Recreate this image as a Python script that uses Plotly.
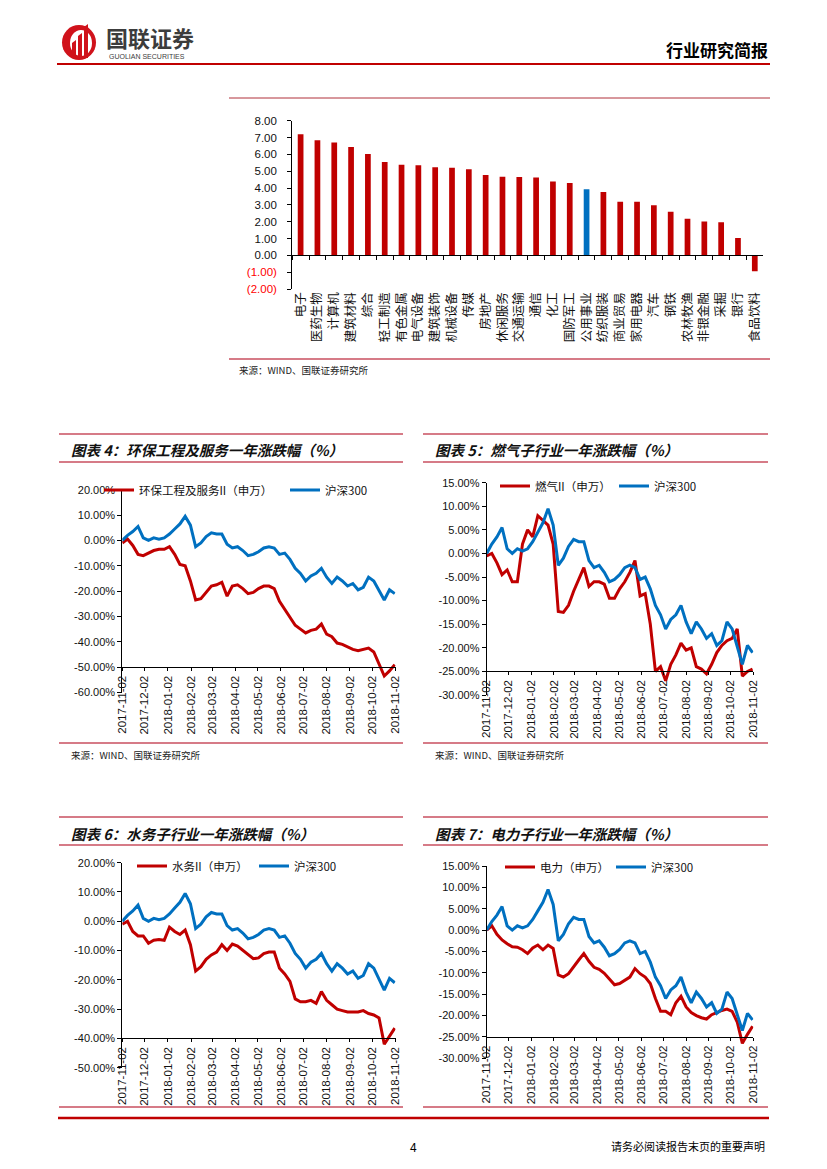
import plotly.graph_objects as go

W, H = 827, 1169
def X(p): return p / W
def Y(p): return 1 - p / H

RED = "#C00000"
BLUE = "#0070C0"
RULE = "#C94F5F"
CJK = "Noto Sans CJK SC"
NUM = "Liberation Sans"

# ---------------- data: industry bar chart ----------------
industries = ["电子", "医药生物", "计算机", "建筑材料", "综合", "轻工制造", "有色金属", "电气设备",
              "建筑装饰", "机械设备", "传媒", "房地产", "休闲服务", "交通运输", "通信", "化工",
              "国防军工", "公用事业", "纺织服装", "商业贸易", "家用电器", "汽车", "钢铁", "农林牧渔",
              "非银金融", "采掘", "银行", "食品饮料"]
returns = [7.20, 6.84, 6.71, 6.43, 6.02, 5.54, 5.39, 5.35, 5.23, 5.21, 5.11, 4.77, 4.67, 4.65,
           4.63, 4.39, 4.30, 3.93, 3.77, 3.18, 3.19, 2.97, 2.59, 2.17, 2.01, 1.96, 1.03, -0.95]
highlight = "公用事业"
bar_ticks = [8, 7, 6, 5, 4, 3, 2, 1, 0, -1, -2]

# ---------------- data: one-year performance lines (weekly, %) ----------------
dates = ["2017-11-02", "2017-11-09", "2017-11-16", "2017-11-23", "2017-11-30", "2017-12-07",
         "2017-12-14", "2017-12-21", "2017-12-28", "2018-01-04", "2018-01-11", "2018-01-18",
         "2018-01-25", "2018-02-01", "2018-02-08", "2018-02-15", "2018-02-22", "2018-03-01",
         "2018-03-08", "2018-03-15", "2018-03-22", "2018-03-29", "2018-04-05", "2018-04-12",
         "2018-04-19", "2018-04-26", "2018-05-03", "2018-05-10", "2018-05-17", "2018-05-24",
         "2018-05-31", "2018-06-07", "2018-06-14", "2018-06-21", "2018-06-28", "2018-07-05",
         "2018-07-12", "2018-07-19", "2018-07-26", "2018-08-02", "2018-08-09", "2018-08-16",
         "2018-08-23", "2018-08-30", "2018-09-06", "2018-09-13", "2018-09-20", "2018-09-27",
         "2018-10-04", "2018-10-11", "2018-10-18", "2018-10-25", "2018-11-01"]
hs300 = [0, 2, 3.5, 5.5, 1, 0, 1, 0.5, 1, 2.5, 4.5, 6.5, 9.5, 6, -2.5, -1, 1.5, 3, 2.5, 2.5,
         -1.5, -3, -2.5, -4, -6, -5.5, -4.5, -3, -2.5, -3, -5.5, -5, -7.5, -11, -13, -16, -14,
         -13, -11, -14.5, -17, -14.5, -16, -18, -17, -19.5, -18.5, -14.5, -16, -20, -23.5, -19.5, -21]
env = [-1, 0.5, -2, -5.5, -6, -5, -4, -3.5, -3.5, -2.5, -5.5, -9.5, -10, -16, -23.5, -23, -20.5,
       -18, -17.5, -16.5, -22, -18, -17.5, -19, -21, -20.5, -19, -18, -18, -19, -24, -27, -30,
       -33.5, -35, -36.5, -35.5, -35, -33, -37, -38, -40.5, -41, -42, -43, -43.5, -43, -42.5,
       -44, -48.5, -53.5, -51.5, -49]
gas = [-0.5, 0, -2, -4.5, -3.5, -6, -6, 2, 5, 3.5, 8, 7, 6, 2, -12.3, -12.5, -11, -8, -5.5, -3,
       -7, -6, -6, -6.5, -9.5, -9.5, -7.5, -6, -4, -1.5, -9, -8.5, -15, -25, -24, -27, -23.5,
       -21.5, -19, -20.5, -20, -24, -24.5, -25.5, -23.5, -21, -19.5, -18.5, -18, -16, -26, -25, -24.5]
water = [-1, 0, -3.5, -5, -5, -7.5, -6.5, -6.2, -6.5, -2, -3.5, -4.5, -3, -8, -17, -15.5, -13,
         -11.5, -10.5, -8, -10, -7.8, -8.5, -10, -11.5, -12.8, -12.5, -11, -10.5, -10.5, -16, -18,
         -20.5, -26.5, -27.5, -27.5, -27, -28, -24, -27, -28.5, -30, -30.5, -31, -31, -31, -30.5,
         -31.5, -32, -33, -42, -39, -36.5]
power = [0, 1, -1, -2.3, -3.2, -3.9, -4, -4.6, -5.5, -4.2, -3.5, -4.6, -3.5, -4.3, -10.5, -11,
         -10.2, -8.5, -7, -5.5, -7.3, -8.7, -9.2, -10.1, -11.5, -12.8, -12.5, -11.8, -11, -9, -10.2,
         -11, -12.5, -16, -19, -19, -19.8, -17, -15.5, -18, -19.3, -20, -20.5, -20.8, -19.8, -19.3,
         -18.8, -18.5, -19, -21.5, -26.5, -24.4, -22.5]
month_ticks = ["2017-11-02", "2017-12-02", "2018-01-02", "2018-02-02", "2018-03-02", "2018-04-02",
               "2018-05-02", "2018-06-02", "2018-07-02", "2018-08-02", "2018-09-02", "2018-10-02",
               "2018-11-02"]

fig = go.Figure()

# ---------------- bar chart ----------------
bar_colors = [BLUE if c == highlight else RED for c in industries]
fig.add_trace(go.Bar(x=industries, y=returns, marker_color=bar_colors, marker_line_width=0,
                     width=0.34, xaxis="x", yaxis="y", showlegend=False))

bar_xd = (292.2, 763.2)
bar_yd = (120.7, 289.0)
bar_yr = (-2, 8)
def axis_pos(yd, yr, v):
    top, bot = yd
    frac = (v - yr[0]) / (yr[1] - yr[0])
    return Y(bot) + frac * (Y(top) - Y(bot))

def fmt_bar(v):
    if v < 0:
        return "<span style='color:#FF0000'>(%.2f)</span>" % abs(v)
    return "%.2f" % v

layout = dict(
    xaxis=dict(domain=[X(bar_xd[0]), X(bar_xd[1])], anchor="free",
               position=axis_pos(bar_yd, bar_yr, 0), type="category",
               categoryorder="array", categoryarray=industries, range=[-0.5, len(industries) - 0.5],
               tickangle=-90, ticks="outside", tickson="boundaries", ticklen=4, tickcolor="black",
               showline=True, linecolor="black", linewidth=1, showgrid=False, zeroline=False,
               ticklabelstandoff=31, tickfont=dict(family=CJK, size=12.5, color="#111")),
    yaxis=dict(domain=[Y(bar_yd[1]), Y(bar_yd[0])], anchor="x", range=list(bar_yr),
               tickvals=bar_ticks, ticktext=[fmt_bar(v) for v in bar_ticks],
               ticks="outside", ticklen=4, tickcolor="black", showline=True, linecolor="black",
               linewidth=1, showgrid=False, zeroline=False, ticklabelstandoff=8,
               tickfont=dict(family=NUM, size=11.5, color="#111")),
)

# ---------------- line charts ----------------
panels = [
    dict(n=2, series=env, name="环保工程及服务II（申万）", title="图表 4：环保工程及服务一年涨跌幅（%）",
         xd=(122.3, 395.5), yd=(489.7, 692.5), yr=(-60, 20), step=10, axis_at=-50,
         red_leg=(139, 490), blue_leg=(325, 490), tl=(69, 449)),
    dict(n=3, series=gas, name="燃气II（申万）", title="图表 5：燃气子行业一年涨跌幅（%）",
         xd=(486.7, 753.3), yd=(482.7, 695.0), yr=(-30, 15), step=5, axis_at=-25,
         red_leg=(535, 486), blue_leg=(654, 486), tl=(433, 449)),
    dict(n=4, series=water, name="水务II（申万）", title="图表 6：水务子行业一年涨跌幅（%）",
         xd=(122.3, 395.5), yd=(862.7, 1067.7), yr=(-50, 20), step=10, axis_at=-40,
         red_leg=(172, 866), blue_leg=(294, 866), tl=(69, 833)),
    dict(n=5, series=power, name="电力（申万）", title="图表 7：电力子行业一年涨跌幅（%）",
         xd=(486.7, 753.3), yd=(866.0, 1058.3), yr=(-30, 15), step=5, axis_at=-25,
         red_leg=(540, 867), blue_leg=(651, 867), tl=(433, 833)),
]

annotations = []
LEG_OFF = 40
leg_i = 1
for p in panels:
    n = p["n"]
    xa, ya = "x%d" % n, "y%d" % n
    lr = "legend" if leg_i == 1 else "legend%d" % leg_i
    lb = "legend%d" % (leg_i + 1)
    fig.add_trace(go.Scatter(x=dates, y=p["series"], mode="lines", name=p["name"],
                             line=dict(color=RED, width=3), xaxis=xa, yaxis=ya, legend=lr))
    fig.add_trace(go.Scatter(x=dates, y=hs300, mode="lines", name="沪深300",
                             line=dict(color=BLUE, width=3), xaxis=xa, yaxis=ya, legend=lb))
    for key, pos in ((lr, p["red_leg"]), (lb, p["blue_leg"])):
        layout[key] = dict(x=X(pos[0] - LEG_OFF), y=Y(pos[1]), xanchor="left", yanchor="middle",
                           orientation="h", bgcolor="rgba(0,0,0,0)", borderwidth=0,
                           font=dict(family=CJK, size=11.5, color="#111"))
    leg_i += 2
    vals = list(range(p["yr"][1], p["yr"][0] - 1, -p["step"]))
    layout["xaxis%d" % n] = dict(
        domain=[X(p["xd"][0]), X(p["xd"][1])], anchor="free",
        position=axis_pos(p["yd"], p["yr"], p["axis_at"]), type="date",
        range=["2017-11-02", "2018-11-02"], tickvals=month_ticks, ticktext=month_ticks,
        tickangle=-90, ticks="outside", ticklen=3, tickcolor="black", showline=True,
        linecolor="black", linewidth=1, showgrid=False, zeroline=False,
        tickfont=dict(family=NUM, size=11.5, color="#111"))
    layout["yaxis%d" % n] = dict(
        domain=[Y(p["yd"][1]), Y(p["yd"][0])], anchor=xa, range=list(p["yr"]),
        tickvals=vals, ticktext=["%.2f%%" % v for v in vals], ticks="outside", ticklen=4,
        tickcolor="black", showline=True, linecolor="black", linewidth=1, showgrid=False,
        zeroline=False, tickfont=dict(family=NUM, size=11, color="#111"))
    annotations.append(dict(text="<b><i>%s</i></b>" % p["title"], x=X(p["tl"][0]), y=Y(p["tl"][1]),
                            xref="paper", yref="paper",
                            xanchor="left", yanchor="middle", showarrow=False,
                            font=dict(family=CJK, size=14.5, color="#111")))

# ---------------- page furniture ----------------
def txt(t, x, y, size, anchor="left", color="#111", bold=False, family=CJK):
    annotations.append(dict(text=("<b>%s</b>" % t) if bold else t, x=X(x), y=Y(y),
                            xref="paper", yref="paper",
                            xanchor=anchor, yanchor="middle", showarrow=False,
                            font=dict(family=family, size=size, color=color)))

txt("国联证券", 104, 37, 22, color="#3c3c3c", bold=True)
txt("GUOLIAN SECURITIES", 107, 56, 7, color="#3c3c3c", family=NUM)
txt("行业研究简报", 770, 50, 17, anchor="right", color="#000", bold=True)
for (sx, sy) in ((237, 370), (69, 755), (433, 755)):
    txt("来源：WIND、国联证券研究所", sx, sy, 9.5, color="#222")
txt("4", 413, 1146, 12, anchor="center", color="#000")
txt("请务必阅读报告末页的重要声明", 767, 1146, 11, anchor="right", color="#000")

shapes = []
def hline(x0, x1, y, color, w):
    shapes.append(dict(type="line", xref="paper", yref="paper", x0=X(x0), x1=X(x1),
                       y0=Y(y), y1=Y(y), line=dict(color=color, width=w)))

hline(57, 770, 64, RED, 2)
hline(229, 770, 98, "#B0303A", 1)
hline(229, 770, 359, RULE, 1.5)
for (a, b) in ((59, 403), (423, 768)):
    for yy in (434, 462, 743, 817, 845, 1107):
        hline(a, b, yy, RULE, 1.3)
hline(58, 769, 1118, RED, 2.5)

# logo mark
def pathp(pts):
    s = "M %f %f " % (X(pts[0][0]), Y(pts[0][1]))
    for (a, b) in pts[1:]:
        s += "L %f %f " % (X(a), Y(b))
    return s + "Z"

shapes.append(dict(type="circle", xref="paper", yref="paper", x0=X(62), x1=X(96),
                   y0=Y(60), y1=Y(25), fillcolor="#D0121B", line=dict(width=0)))
shapes.append(dict(type="circle", xref="paper", yref="paper", x0=X(70), x1=X(92),
                   y0=Y(56), y1=Y(30), fillcolor="white", line=dict(width=0)))
for (a, b, top) in ((72, 76, 40), (78, 82, 33), (84, 88, 24)):
    shapes.append(dict(type="path", xref="paper", yref="paper",
                       path=pathp([(a, 58), (a, top + 3), (b, top), (b, 58)]),
                       fillcolor="#D0121B", line=dict(width=0)))

fig.update_layout(**layout)
fig.update_layout(width=W, height=H, autosize=False,
                  margin=dict(l=0, r=0, t=0, b=0, autoexpand=False),
                  paper_bgcolor="white", plot_bgcolor="white", annotations=annotations,
                  shapes=shapes, showlegend=True, bargap=0.66)
fig.write_html("out.html", config={"displayModeBar": False},
               post_script="document.body.style.margin='0';")
